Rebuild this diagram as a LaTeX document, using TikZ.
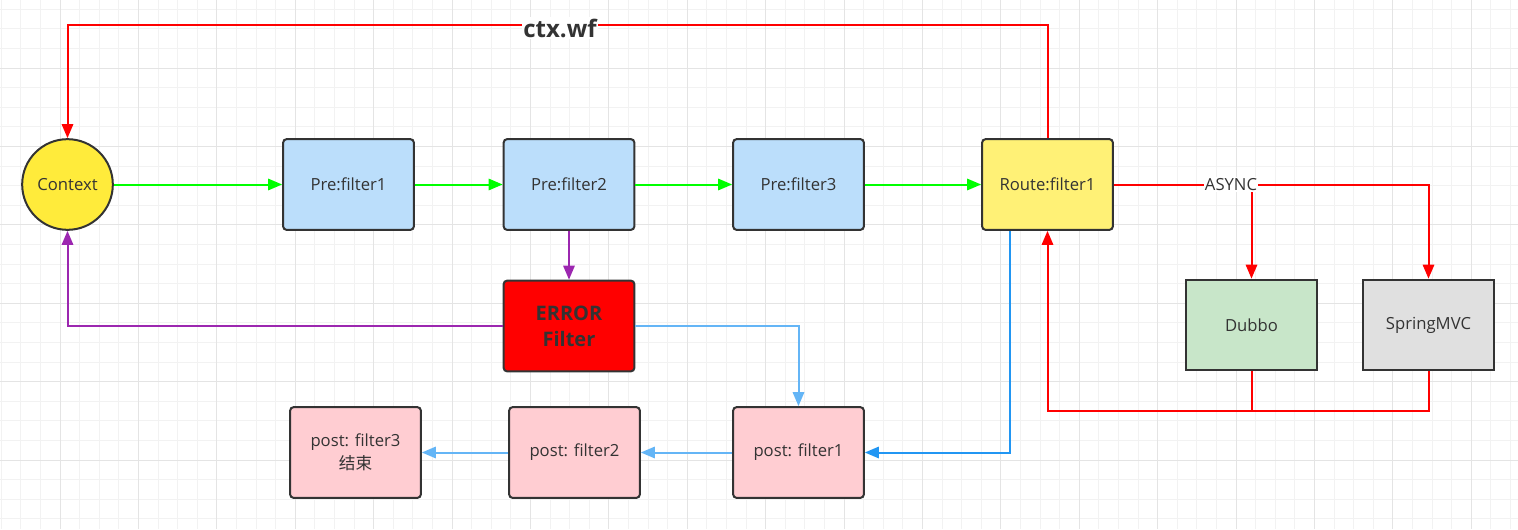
\documentclass[tikz,border=0pt]{standalone}
\usepackage{fontspec}
\setmainfont{Open Sans}
\newfontfamily\cjk{Noto Sans CJK SC}
\usepackage{xcolor}
\usetikzlibrary{arrows.meta}

\definecolor{inkgray}{HTML}{333333}
\definecolor{gridmin}{HTML}{F2F2F2}
\definecolor{gridmaj}{HTML}{E4E4E4}
\definecolor{prefill}{HTML}{BBDEFB}
\definecolor{routefill}{HTML}{FFF176}
\definecolor{ctxfill}{HTML}{FFEB3B}
\definecolor{postfill}{HTML}{FFCDD2}
\definecolor{dubbofill}{HTML}{C8E6C9}
\definecolor{mvcfill}{HTML}{E0E0E0}
\definecolor{errfill}{HTML}{FF0000}
\definecolor{flowgreen}{HTML}{00FF00}
\definecolor{flowred}{HTML}{FF0000}
\definecolor{flowpurple}{HTML}{9C27B0}
\definecolor{flowsky}{HTML}{64B5F6}
\definecolor{flowblue}{HTML}{2196F3}

\begin{document}
\begin{tikzpicture}[x=0.75pt,y=-0.75pt,
  box/.style={draw=inkgray,line width=1.5pt,rounded corners=2.5pt,minimum width=98pt,minimum height=68pt,
    inner sep=0pt,align=center,text=inkgray,font=\fontsize{12.5}{17}\selectfont},
  sqbox/.style={box,rounded corners=0pt},
  flow/.style={line width=1.5pt,-{Triangle[length=10.5pt,width=8.5pt]}},
  lbl/.style={fill=white,inner sep=1pt,text=inkgray}]
  \useasboundingbox (0,0) rectangle (1518,529);
  \fill[white] (0,0) rectangle (1518,529);
  % grid
  \foreach \i in {0,...,77} \draw[gridmin,line width=0.75pt] ({1.2+19.6*\i},0) -- ({1.2+19.6*\i},529);
  \foreach \j in {0,...,26} \draw[gridmin,line width=0.75pt] (0,{9.2+19.6*\j}) -- (1518,{9.2+19.6*\j});
  \foreach \i in {0,...,19} \draw[gridmaj,line width=0.75pt] ({60+78.4*\i},0) -- ({60+78.4*\i},529);
  \foreach \j in {0,...,6} \draw[gridmaj,line width=0.75pt] (0,{68+78.4*\j}) -- (1518,{68+78.4*\j});

  % nodes
  \node[box,circle,minimum size=68pt,fill=ctxfill] (ctx) at (67.5,184.5) {Context};
  \node[box,fill=prefill] (pre1) at (348.5,184.5) {Pre:filter1};
  \node[box,fill=prefill] (pre2) at (569,184.5) {Pre:filter2};
  \node[box,fill=prefill] (pre3) at (798.5,184.5) {Pre:filter3};
  \node[box,fill=routefill] (route) at (1047.5,184.5) {Route:filter1};
  \node[box,fill=errfill,font=\fontsize{15}{19.5}\selectfont\bfseries] (err) at (569,326) {ERROR\\Filter};
  \node[sqbox,fill=dubbofill] (dubbo) at (1251.5,325) {Dubbo};
  \node[sqbox,fill=mvcfill] (mvc) at (1428.5,325) {SpringMVC};
  \node[box,fill=postfill] (post1) at (798.5,452.5) {post: filter1};
  \node[box,fill=postfill] (post2) at (574.5,452.5) {post: filter2};
  \node[box,fill=postfill] (post3) at (355.5,452.5) {post: filter3\\{\cjk 结束}};

  % pre chain
  \draw[flow,flowgreen] (ctx) -- (pre1);
  \draw[flow,flowgreen] (pre1) -- (pre2);
  \draw[flow,flowgreen] (pre2) -- (pre3);
  \draw[flow,flowgreen] (pre3) -- (route);
  % ctx.wf loop
  \draw[flow,flowred] (route.north) -- (route.north |- 0,25) -| (ctx.north);
  \node[lbl,font=\fontsize{18}{20}\selectfont\bfseries] (wf) at (560,28) {ctx.wf};
  % async routing
  \draw[flow,flowred] (route.east) -| (mvc.north);
  \draw[flow,flowred] (dubbo.north |- route.east) -- (dubbo.north);
  \node[lbl,font=\fontsize{12.5}{14}\selectfont] (async) at (1231,184.5) {ASYNC};
  \coordinate (join) at (1251.5,411);
  \draw[flow,flowred] (dubbo.south) -- (join) -| (route.south);
  \draw[line width=1.5pt,flowred] (mvc.south) |- (join);
  % error path
  \draw[flow,flowpurple] (pre2) -- (err);
  \draw[flow,flowpurple] (err.west) -| (ctx.south);
  \draw[flow,flowsky] (err.east) -| (post1.north);
  % post chain
  \draw[flow,flowblue] ([xshift=-28.5pt]route.south) |- (post1.east);
  \draw[flow,flowsky] (post1) -- (post2);
  \draw[flow,flowsky] (post2) -- (post3);
\end{tikzpicture}
\end{document}
